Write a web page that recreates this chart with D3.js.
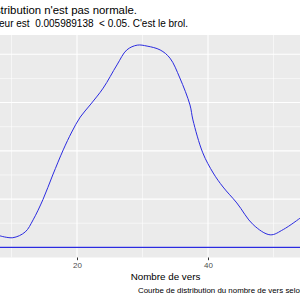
<!DOCTYPE html>
<html>
<head>
<meta charset="utf-8">
<script src="https://cdn.jsdelivr.net/npm/d3@7"></script>
<style>
  body { margin: 0; background: #fff; }
  text { font-family: 'Liberation Sans', Arial, sans-serif; }
</style>
</head>
<body>
<div id="chart"></div>
<script>
// density curve (x = nombre de vers, y = densité)
const vers = [8.2, 10.2, 12.1, 13.3, 14.8, 16.3, 17.9, 19.2, 20.5, 22.0, 24.0, 26.1, 27.6, 29.2, 30.7, 32.7, 34.2, 35.7, 37.25, 37.7, 39.2, 40.8, 42.3, 44.4, 46.9, 49.5, 51.5, 54.1];
const densite = [0.0024, 0.0020, 0.0032, 0.0057, 0.0099, 0.0150, 0.0202, 0.0239, 0.0270, 0.0295, 0.0330, 0.0378, 0.0409, 0.0419, 0.0417, 0.0409, 0.0392, 0.0351, 0.0295, 0.0264, 0.0196, 0.0154, 0.0125, 0.0092, 0.0047, 0.0026, 0.0037, 0.0061];
const xMajor = [0, 20, 40, 60];
const xMinor = [10, 30, 50];
const yMajor = [0, 0.01, 0.02, 0.03, 0.04];
const yMinor = [0.005, 0.015, 0.025, 0.035];
const titre = "La distribution n'est pas normale.";
const sousTitre = "La p-valeur est  0.005989138  < 0.05. C'est le brol.";
const legende = "Courbe de distribution du nombre de vers selon le traitement";

const width = 300, height = 300;
const panel = { top: 35, bottom: 257.5, left: -60, right: 345 };

const svg = d3.select('#chart')
    .append('svg')
    .attr('width', width)
    .attr('height', height);

const x = d3.scaleLinear().domain([0, 60]).range([-54, 339]);
const y = d3.scaleLinear().domain([-0.0021, 0.044]).range([panel.bottom, panel.top]);

// panel background
svg.append('rect')
    .attr('x', panel.left)
    .attr('y', panel.top)
    .attr('width', panel.right - panel.left)
    .attr('height', panel.bottom - panel.top)
    .attr('fill', '#EBEBEB');

// grid lines
const grid = svg.append('g');
grid.selectAll('.xmin').data(xMinor).join('line')
    .attr('x1', d => x(d)).attr('x2', d => x(d))
    .attr('y1', panel.top).attr('y2', panel.bottom)
    .attr('stroke', '#fff').attr('stroke-width', 0.55);
grid.selectAll('.ymin').data(yMinor).join('line')
    .attr('y1', d => y(d)).attr('y2', d => y(d))
    .attr('x1', panel.left).attr('x2', panel.right)
    .attr('stroke', '#fff').attr('stroke-width', 0.55);
grid.selectAll('.xmaj').data(xMajor).join('line')
    .attr('x1', d => x(d)).attr('x2', d => x(d))
    .attr('y1', panel.top).attr('y2', panel.bottom)
    .attr('stroke', '#fff').attr('stroke-width', 1.1);
grid.selectAll('.ymaj').data(yMajor).join('line')
    .attr('y1', d => y(d)).attr('y2', d => y(d))
    .attr('x1', panel.left).attr('x2', panel.right)
    .attr('stroke', '#fff').attr('stroke-width', 1.1);

// baseline of the density outline
svg.append('line')
    .attr('x1', x(0)).attr('x2', x(60))
    .attr('y1', y(0)).attr('y2', y(0))
    .attr('stroke', '#2B2BE0')
    .attr('stroke-width', 1.1);

// density curve
const points = vers.map((v, i) => [v, densite[i]]);
const line = d3.line()
    .curve(d3.curveCatmullRom.alpha(0.5))
    .x(d => x(d[0]))
    .y(d => y(d[1]));
svg.append('path')
    .datum(points)
    .attr('d', line)
    .attr('fill', 'none')
    .attr('stroke', '#2B2BE0')
    .attr('stroke-width', 1);

// x axis
const axis = svg.append('g')
    .attr('transform', `translate(0,${panel.bottom})`)
    .call(d3.axisBottom(x).tickValues([20, 40]).tickSize(2.7).tickPadding(2));
axis.select('.domain').remove();
axis.selectAll('line').attr('stroke', '#333333').attr('stroke-width', 1);
axis.selectAll('text')
    .attr('fill', '#4D4D4D')
    .style('font-size', '8px')
    .style('font-family', "'Liberation Sans', Arial, sans-serif");

svg.append('text')
    .attr('x', 165.5)
    .attr('y', 280)
    .attr('text-anchor', 'middle')
    .style('font-size', '9.8px')
    .attr('fill', '#000')
    .text('Nombre de vers');

// titles
svg.append('text')
    .attr('x', 137)
    .attr('y', 14)
    .attr('text-anchor', 'end')
    .style('font-size', '11.4px')
    .attr('fill', '#000')
    .text(titre);

svg.append('text')
    .attr('x', 188)
    .attr('y', 27)
    .attr('text-anchor', 'end')
    .attr('xml:space', 'preserve')
    .style('white-space', 'pre')
    .style('font-size', '10px')
    .attr('fill', '#000')
    .text(sousTitre);

svg.append('text')
    .attr('x', 138)
    .attr('y', 293)
    .style('font-size', '7.9px')
    .attr('fill', '#000')
    .text(legende);
</script>
</body>
</html>
